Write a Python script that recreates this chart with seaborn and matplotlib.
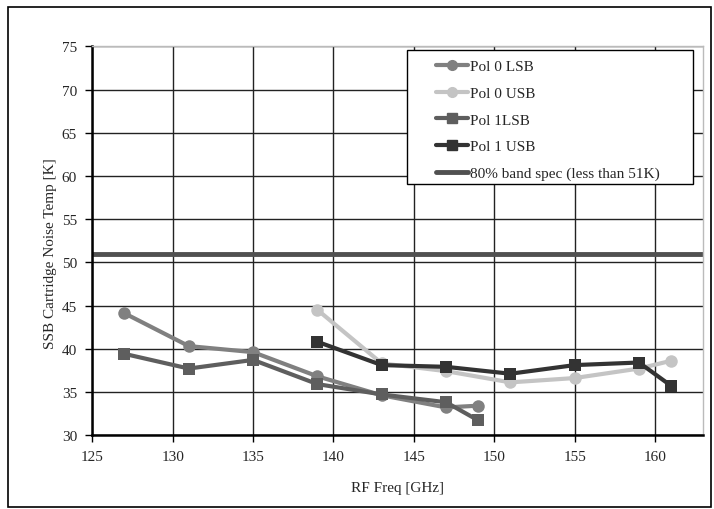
import pandas as pd
import matplotlib.pyplot as plt
import seaborn as sns

# Values
freq_lo = [127, 131, 135, 139, 143, 147, 149]
freq_hi = [139, 143, 147, 151, 155, 159, 161]
pol0_lsb = [44.1, 40.3, 39.6, 36.8, 34.6, 33.2, 33.4]
pol0_usb = [44.5, 38.3, 37.4, 36.1, 36.6, 37.7, 38.6]
pol1_lsb = [39.4, 37.7, 38.7, 35.9, 34.7, 33.8, 31.7]
pol1_usb = [40.8, 38.1, 37.9, 37.1, 38.1, 38.4, 35.7]
spec_limit = 51

series = ['Pol 0 LSB', 'Pol 0 USB', 'Pol 1LSB', 'Pol 1 USB']
colors = ['#808080', '#c4c4c4', '#5e5e5e', '#333333']
markers = ['o', 'o', 's', 's']

df = pd.concat([
    pd.DataFrame({'freq': freq_lo, 'temp': pol0_lsb, 'series': series[0]}),
    pd.DataFrame({'freq': freq_hi, 'temp': pol0_usb, 'series': series[1]}),
    pd.DataFrame({'freq': freq_lo, 'temp': pol1_lsb, 'series': series[2]}),
    pd.DataFrame({'freq': freq_hi, 'temp': pol1_usb, 'series': series[3]}),
], ignore_index=True)

sns.set_style('white')
plt.rcParams['font.family'] = ['Liberation Serif', 'DejaVu Serif']

fig = plt.figure(figsize=(7.14, 5.1), dpi=100)
ax = fig.add_axes([0.1293, 0.145, 0.8557, 0.762])

# outer chart border
fig.patches.append(plt.Rectangle((0.011, 0.004), 0.985, 0.981, transform=fig.transFigure,
                                 fill=False, edgecolor='black', linewidth=1.2))

sns.lineplot(data=df, x='freq', y='temp', hue='series', style='series',
             hue_order=series, style_order=series,
             palette=dict(zip(series, colors)), markers=dict(zip(series, markers)),
             dashes=False, linewidth=3, markersize=9, markeredgewidth=0,
             ax=ax, legend=False)

for name, c, m in zip(series, colors, markers):
    ax.plot([], [], color=c, marker=m, linewidth=3, markersize=7, label=name)
ax.axhline(spec_limit, color='#505050', linewidth=3.5,
           label='80% band spec (less than 51K)')

ax.set_xlim(125, 163)
ax.set_ylim(30, 75)
ax.set_xticks(range(125, 161, 5))
ax.set_yticks(range(30, 76, 5))
ax.grid(True, color='#222222', linewidth=1)
ax.set_axisbelow(True)

for s in ['top', 'right']:
    ax.spines[s].set_color('#bbbbbb')
    ax.spines[s].set_linewidth(1)
for s in ['left', 'bottom']:
    ax.spines[s].set_color('black')
    ax.spines[s].set_linewidth(1.8)

ax.tick_params(axis='both', direction='out', length=5, width=1, labelsize=11,
               color='black', pad=6, left=True, bottom=True)
ax.set_xlabel('RF Freq [GHz]', fontsize=11, labelpad=13)
ax.set_ylabel('SSB Cartridge Noise Temp [K]', fontsize=11)
ax.yaxis.set_label_coords(-0.058, 0.47)

# legend box drawn separately so its padding matches the reference
ax.add_patch(plt.Rectangle((0.515, 0.645), 0.468, 0.346, transform=ax.transAxes,
                           facecolor='white', edgecolor='black', linewidth=1,
                           zorder=4))
leg = ax.legend(loc='upper left', bbox_to_anchor=(0.5625, 0.966), fontsize=11,
                frameon=False, handlelength=2.1, handletextpad=0.1,
                labelspacing=0.85, borderpad=0, borderaxespad=0)
leg.set_zorder(5)

fig.savefig('out.png', dpi=100)
